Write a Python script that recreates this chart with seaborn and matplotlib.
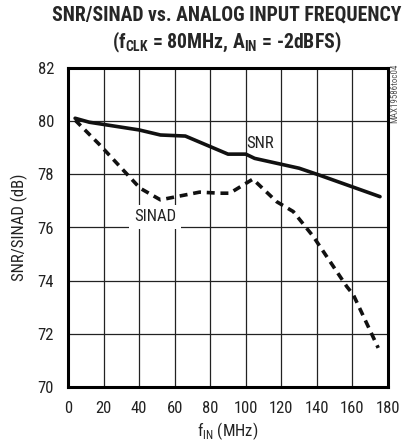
import matplotlib
matplotlib.use("Agg")
import matplotlib.pyplot as plt
import seaborn as sns
import pandas as pd

# Measured curves (input frequency in MHz, level in dB)
snr_freq = [4, 12, 40, 52, 66, 90, 100, 105, 130, 141, 175.5]
snr_db = [80.11, 79.96, 79.67, 79.48, 79.44, 78.76, 78.76, 78.6, 78.23, 77.98, 77.16]

sinad_freq = [4, 18, 40.5, 52, 61, 74, 85.5, 91, 104, 117.4, 126.7, 138, 156.8, 160.5, 174.5]
sinad_db = [80.04, 79.1, 77.48, 77.04, 77.16, 77.33, 77.29, 77.29, 77.82, 76.97, 76.6, 75.66, 73.78, 73.47, 71.47]

x_ticks = [0, 20, 40, 60, 80, 100, 120, 140, 160, 180]
y_ticks = [70, 72, 74, 76, 78, 80, 82]

sns.set_theme(style="white")
fam = ["Roboto Condensed", "DejaVu Sans"]
plt.rcParams["font.family"] = fam
plt.rcParams["mathtext.fontset"] = "custom"
plt.rcParams["mathtext.rm"] = "Roboto Condensed"
plt.rcParams["mathtext.bf"] = "Roboto Condensed:bold"

snr = pd.DataFrame({"f": snr_freq, "db": snr_db})
sinad = pd.DataFrame({"f": sinad_freq, "db": sinad_db})

fig = plt.figure(figsize=(4.04, 4.45), dpi=100)
ax = fig.add_axes([68 / 404, 58 / 445, 320 / 404, 319 / 445])

sns.lineplot(data=snr, x="f", y="db", ax=ax, color="#111111", linewidth=2.6, zorder=3)
sns.lineplot(data=sinad, x="f", y="db", ax=ax, color="#111111", linewidth=2.6,
             linestyle=(0, (2.2, 1.6)), zorder=3)

ax.set_xlim(0, 180)
ax.set_ylim(70, 82)
ax.set_xticks(x_ticks)
ax.set_yticks(y_ticks)
ax.grid(True, color="#222222", linewidth=0.9)
for s in ax.spines.values():
    s.set_linewidth(2.2)
    s.set_color("black")
ax.tick_params(axis="both", labelsize=12, length=0, colors="#222222")
ax.tick_params(axis="x", pad=10)
ax.tick_params(axis="y", pad=10)

ax.set_xlabel(r"f$_{\mathrm{IN}}$ (MHz)", fontsize=12, color="#222222", labelpad=3)
ax.set_ylabel("SNR/SINAD (dB)", fontsize=12, color="#222222", labelpad=7)

ax.text(108, 79.17, "SNR", fontsize=12, ha="center", va="center", color="#222222", zorder=4)
ax.text(49, 76.4, "SINAD", fontsize=12, ha="center", va="center", color="#222222", zorder=4,
        bbox=dict(facecolor="white", edgecolor="none", pad=3.5))

fig.text(227 / 404, 1 - 15 / 445, "SNR/SINAD vs. ANALOG INPUT FREQUENCY",
         ha="center", va="center", fontsize=14.2, fontweight="bold")
fig.text(227 / 404, 1 - 42 / 445,
         r"(f$_{\mathbf{CLK}}$ = 80MHz, A$_{\mathbf{IN}}$ = -2dBFS)",
         ha="center", va="center", fontsize=14.2, fontweight="bold")
fig.text(395 / 404, 1 - 64 / 445, "MAX19586toc04", rotation=90, ha="center", va="top",
         fontsize=6.5, color="#555555")

fig.savefig("out.png", dpi=100)
